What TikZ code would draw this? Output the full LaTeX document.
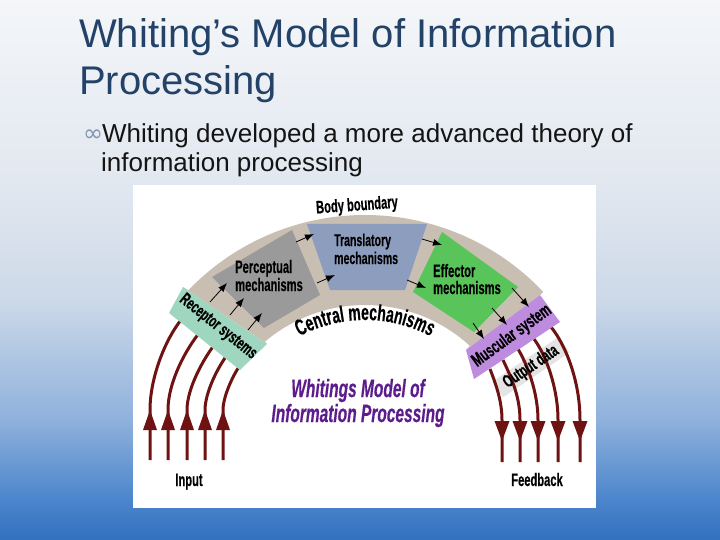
\documentclass[tikz,border=0pt]{standalone}
\usepackage{fontspec}
\setmainfont{Liberation Sans}
\newfontfamily\cnd[FakeStretch=0.62,FakeBold=0.4]{Liberation Sans}
\newfontfamily\symf{DejaVu Sans}
\usetikzlibrary{arrows.meta,decorations.text,calc}
\definecolor{bgA}{RGB}{244,246,249}
\definecolor{bgB}{RGB}{226,232,240}
\definecolor{bgC}{RGB}{205,217,232}
\definecolor{bgD}{RGB}{143,177,220}
\definecolor{bgE}{RGB}{75,133,204}
\definecolor{bgF}{RGB}{50,111,189}
\definecolor{titleblue}{RGB}{35,66,104}
\definecolor{bodytxt}{RGB}{20,20,20}
\definecolor{bulletc}{RGB}{130,150,175}
\definecolor{tanc}{RGB}{201,190,178}
\definecolor{pgray}{RGB}{154,154,154}
\definecolor{tblue}{RGB}{141,157,190}
\definecolor{egreen}{RGB}{88,196,90}
\definecolor{rteal}{RGB}{158,214,192}
\definecolor{mpurple}{RGB}{190,140,222}
\definecolor{stripc}{RGB}{228,228,228}
\definecolor{dred}{RGB}{110,18,18}
\definecolor{ttlpurple}{RGB}{92,28,140}
\begin{document}
\begin{tikzpicture}[x=1pt,y=1pt,
  lbl/.style={inner sep=0pt,font=\cnd\bfseries\fontsize{18}{18}\selectfont,text=black},
  redline/.style={draw=dred,line width=3pt},
  redhead/.style={fill=dred},
  sarrow/.style={draw=black,line width=0.8pt,-{Latex[length=9pt,width=7pt]}}]
\useasboundingbox (0,0) rectangle (720,-540);
% background
\shade[top color=bgA,bottom color=bgB] (0,0) rectangle (720,-180);
\shade[top color=bgB,bottom color=bgC] (0,-180) rectangle (720,-300);
\shade[top color=bgC,bottom color=bgD] (0,-300) rectangle (720,-420);
\shade[top color=bgD,bottom color=bgE] (0,-420) rectangle (720,-500);
\shade[top color=bgE,bottom color=bgF] (0,-500) rectangle (720,-540);
\fill[white] (133,-185) rectangle (596,-508);
% title and bullet text
\node[anchor=base west,inner sep=0,text=titleblue,font=\fontsize{40}{40}\selectfont] (t1) at (79,-48) {Whiting’s Model of Information};
\node[anchor=base west,inner sep=0,text=titleblue,font=\fontsize{40}{40}\selectfont] (t2) at (79,-95) {Processing};
\node[anchor=base west,inner sep=0,text=bodytxt,font=\fontsize{26}{26}\selectfont] (b1) at (102,-143) {Whiting developed a more advanced theory of};
\node[anchor=base west,inner sep=0,text=bodytxt,font=\fontsize{26}{26}\selectfont] (b2) at (101,-172) {information processing};
\node[anchor=base west,inner sep=0,text=bulletc,font=\symf\fontsize{24}{24}\selectfont] (bul) at (83,-142) {∞};
% arch
\coordinate (c) at (365,-460);
\fill[tanc] (183,-287) -- ($(c)+(136.5:245)$) arc[start angle=136.5,end angle=43.3,radius=245]
  -- (540,-295) -- (466,-350) -- ($(c)+(47.4:155)$) arc[start angle=47.4,end angle=130.2,radius=155]
  -- (267,-344) -- cycle;
\fill[pgray] (212,-277) -- (292,-230) -- (320,-295) -- (264,-328) -- cycle;
\fill[tblue] (307,-224) -- (427,-224) -- (405,-290) -- (330,-290) -- cycle;
\fill[egreen] (442,-232) -- (518,-287) -- (474,-332) -- (413,-292) -- cycle;
% output strip
\node[fill=stripc,rotate=34,minimum width=80,minimum height=19,inner sep=0] (strip) at (531,-367) {};
% input lines
\foreach \n/\xb/\tx/\ty/\cx/\cy/\dx in {1/150/178/323/32/-16/-20,2/168/197/335/28/-14/-17,3/187/212/347/22/-11/-14,4/205/225/357/18/-9/-11,5/223/238/367/14/-7/-9}{
  \coordinate (in\n b) at (\xb,-460);
  \coordinate (in\n t) at (\tx+3,-\ty+3);
  \draw[redline] (in\n b) -- ++(0,50) .. controls +(0,\cx) and +(\cy,\dx) .. (in\n t);
  \fill[redhead] ($(in\n b)+(-7,30)$) -- ($(in\n b)+(7,30)$) -- ($(in\n b)+(0,50)$) -- cycle;
}
% feedback lines
\foreach \n/\tx/\ty/\xb/\ax/\ay/\by in {1/492/372/502/5/-13/20,2/505/363/520/7/-15/25,3/520/352/538/9/-15/28,4/536/342/558/12/-16/32,5/553/330/580/14/-17/40}{
  \coordinate (fb\n t) at (\tx-2,-\ty+3);
  \coordinate (fb\n m) at (\xb,-420);
  \coordinate (fb\n b) at (\xb,-462);
  \draw[redline] (fb\n t) .. controls +(\ax,\ay) and +(0,\by) .. (fb\n m) -- (fb\n b);
  \fill[redhead] ($(fb\n m)+(-7.5,-1)$) -- ($(fb\n m)+(7.5,-1)$) -- ($(fb\n m)+(0,-21)$) -- cycle;
}
\fill[rteal] (183,-287) -- (169,-313) -- (240,-370) -- (267,-344) -- cycle;
\fill[mpurple] (540,-295) -- (560,-322) -- (474,-379) -- (466,-350) -- cycle;
% small arrows
\foreach \n/\sx/\sy/\ex/\ey in {1/210/302/227/283,2/230/315/244/298,3/248/330/262/313,4/296/242/314/234,5/317/283/335/275,6/422/239/442/245,7/407/280/426/288,8/512/288/529/307,9/492/308/507/325,10/473/323/484/339}{
  \coordinate (s\n) at (\sx,-\sy);
  \coordinate (e\n) at (\ex,-\ey);
  \draw[sarrow] (s\n) -- (e\n);
}
% labels
\node[lbl,rotate=4] (body) at (357,-206) {Body boundary};
\node[lbl,anchor=base west] (perc1) at (235,-273) {Perceptual};
\node[lbl,anchor=base west] (perc2) at (235,-291) {mechanisms};
\node[lbl,anchor=base west,font=\cnd\bfseries\fontsize{17}{17}\selectfont] (tr1) at (334,-246) {Translatory};
\node[lbl,anchor=base west,font=\cnd\bfseries\fontsize{17}{17}\selectfont] (tr2) at (334,-264) {mechanisms};
\node[lbl,anchor=base west] (ef1) at (433,-277) {Effector};
\node[lbl,anchor=base west] (ef2) at (433,-294) {mechanisms};
\node[lbl,rotate=-38.5,font=\cnd\bfseries\fontsize{17.5}{17.5}\selectfont] (rec) at (218,-327) {Receptor systems};
\node[lbl,rotate=36,font=\cnd\bfseries\fontsize{18.5}{18.5}\selectfont] (mus) at (512,-336) {Muscular system};
\node[lbl,rotate=34,font=\cnd\bfseries\fontsize{18}{18}\selectfont] (out) at (531,-367) {Output data};
\path[decorate,decoration={text along path,text align=center,
  text={|\cnd\bfseries\fontsize{22.5}{22.5}\selectfont|Central mechanisms}}]
  ($(c)+(150:140)$) arc[start angle=150,end angle=30,radius=140];
\node[inner sep=0,anchor=base,text=ttlpurple,font=\cnd\bfseries\itshape\fontsize{25}{25}\selectfont] (wm1) at (358,-397) {Whitings Model of};
\node[inner sep=0,anchor=base,text=ttlpurple,font=\cnd\bfseries\itshape\fontsize{25}{25}\selectfont] (wm2) at (358,-422) {Information Processing};
\node[lbl,anchor=base] (inp) at (189,-486) {Input};
\node[lbl,anchor=base] (fb) at (537,-486) {Feedback};
\end{tikzpicture}
\end{document}
